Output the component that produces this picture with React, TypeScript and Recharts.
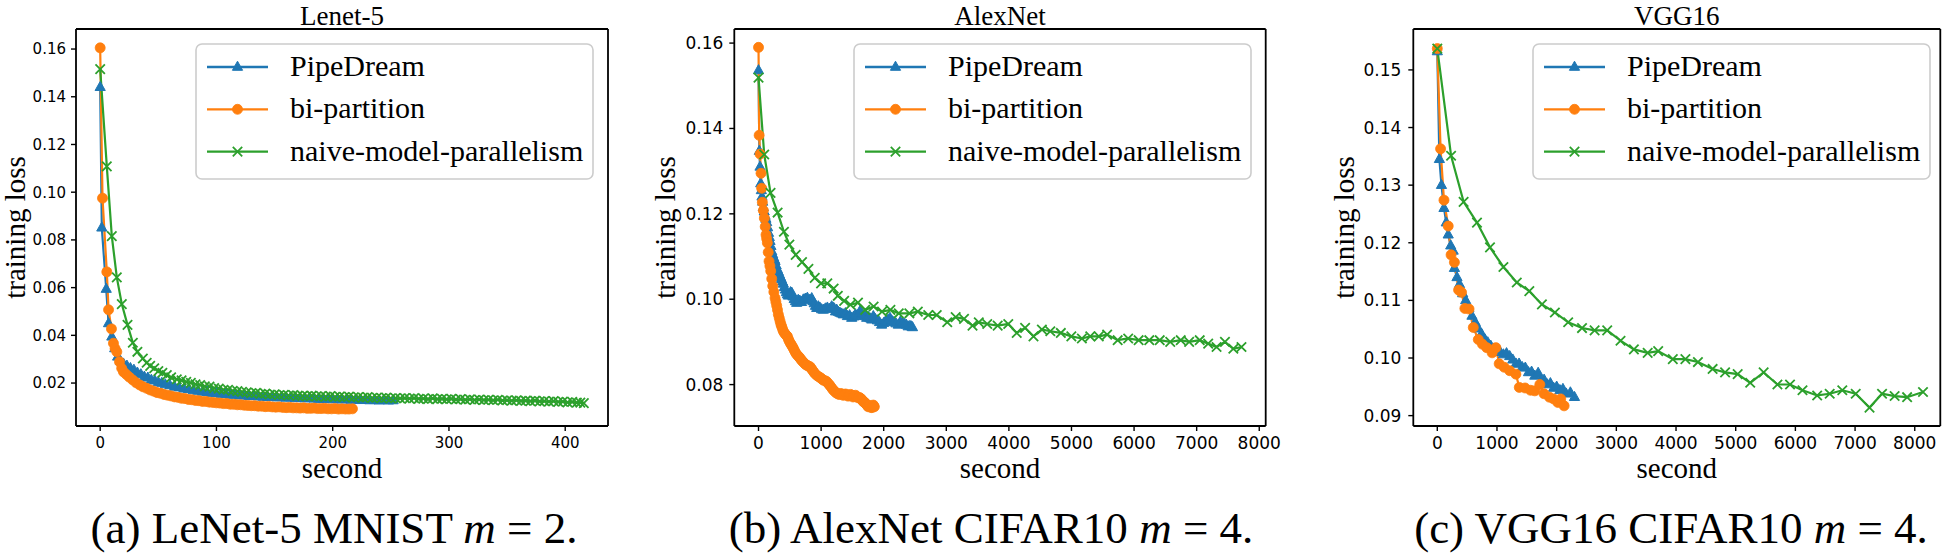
import React from 'react';
import { LineChart, Line, XAxis, YAxis, Legend, ReferenceLine } from 'recharts';

type Pt = [number, number];

const BLUE = '#1f77b4';
const ORANGE = '#ff7f0e';
const GREEN = '#2ca02c';
const SERIF = '"Liberation Serif", "Times New Roman", serif';
const SANS = '"DejaVu Sans", sans-serif';

const seriesNames = ['PipeDream', 'bi-partition', 'naive-model-parallelism'];
const titles = ['Lenet-5', 'AlexNet', 'VGG16'];
const captionHeads = ['(a) LeNet-5 MNIST ', '(b) AlexNet CIFAR10 ', '(c) VGG16 CIFAR10 '];
const captionM = ['2', '4', '4'];

// ---- (a) LeNet-5
const lenetPipe: Pt[] = [
  [0, 0.144], [1.4, 0.0851], [5.2, 0.0594], [7.2, 0.045], [10, 0.0394], [12.5, 0.0345], [15, 0.031],
  [17.5, 0.0292], [20, 0.0281], [23, 0.0272], [26, 0.0262], [29, 0.0255], [32, 0.0243], [35, 0.0236],
  [38, 0.0226], [41, 0.0222], [44, 0.0213], [47, 0.021], [50, 0.0203], [53, 0.02], [56, 0.0194],
  [60, 0.019], [64, 0.0184], [68, 0.0181], [72, 0.0176], [76, 0.0174], [80, 0.0169], [84, 0.0167],
  [88, 0.0163], [92, 0.0162], [96, 0.0158], [100, 0.0157], [104, 0.0154], [108, 0.0153], [112, 0.015],
  [116, 0.0151], [120, 0.0147], [124, 0.0148], [128, 0.0145], [132, 0.0146], [136, 0.0143], [140, 0.0142],
  [144, 0.0141], [148, 0.0143], [152, 0.0139], [156, 0.014], [160, 0.0138], [164, 0.0139], [168, 0.0136],
  [172, 0.0137], [176, 0.0135], [180, 0.0136], [184, 0.0134], [188, 0.0133], [192, 0.0132], [196, 0.0134],
  [200, 0.0131], [204, 0.0132], [208, 0.013], [212, 0.0132], [216, 0.0129], [220, 0.013], [224, 0.0128],
  [228, 0.013], [232, 0.0127], [236, 0.0128], [240, 0.0126], [244, 0.0129], [248, 0.0126], [252, 0.0127],
];
const lenetBi: Pt[] = [
  [0, 0.1605], [2, 0.0975], [5.7, 0.0666], [7.2, 0.0507], [9.7, 0.0427], [11.4, 0.0367], [12.8, 0.0345],
  [14.3, 0.0331], [16.6, 0.0289], [18.5, 0.0262], [20, 0.0247], [22.5, 0.0236], [25, 0.0225], [28, 0.0213],
  [31, 0.0201], [34, 0.0192], [37, 0.0184], [40, 0.0178], [43, 0.0171], [46, 0.0166], [49, 0.016],
  [52, 0.0157], [55, 0.0152], [58, 0.0149], [61, 0.0146], [64, 0.0142], [67, 0.014], [70, 0.0136],
  [73, 0.0135], [76, 0.0131], [79, 0.013], [82, 0.0127], [85, 0.0126], [88, 0.0123], [91, 0.0123],
  [94, 0.012], [97, 0.0119], [100, 0.0117], [103, 0.0116], [106, 0.0114], [109, 0.0114], [112, 0.0111],
  [115, 0.0111], [118, 0.0109], [121, 0.0109], [124, 0.0107], [127, 0.0106], [130, 0.0105], [133, 0.0105],
  [136, 0.0103], [139, 0.0103], [142, 0.0101], [145, 0.0102], [148, 0.01], [151, 0.0099], [154, 0.01],
  [157, 0.0098], [160, 0.0097], [163, 0.0098], [166, 0.0096], [169, 0.0096], [172, 0.0095], [175, 0.0096],
  [178, 0.0094], [181, 0.0094], [184, 0.0095], [187, 0.0093], [190, 0.0093], [193, 0.0094], [196, 0.0092],
  [199, 0.0092], [202, 0.0093], [205, 0.0091], [208, 0.0092], [211, 0.0091], [214, 0.0091], [217, 0.0092],
];
const lenetNaive: Pt[] = [
  [0, 0.1516], [5.7, 0.1108], [10, 0.0816], [14.3, 0.0643], [18.6, 0.0531], [23.5, 0.0444], [28.1, 0.0369],
  [32, 0.0331], [36.7, 0.0303], [40, 0.0285], [43, 0.0272], [46.5, 0.0262], [50, 0.025], [53.5, 0.0243],
  [57.3, 0.0233], [61, 0.0224], [65.9, 0.0216], [70, 0.0211], [74, 0.0205], [78, 0.0201], [82, 0.0195],
  [86, 0.0192], [90, 0.0186], [94, 0.0185], [98, 0.0179], [102, 0.0177], [106, 0.0172], [110, 0.0172],
  [114, 0.0167], [118, 0.0166], [122, 0.0163], [126, 0.0161], [130, 0.0158], [134, 0.0159], [138, 0.0155],
  [142, 0.0156], [146, 0.0152], [150, 0.0153], [154, 0.015], [158, 0.0151], [162, 0.0148], [166, 0.015],
  [170, 0.0147], [174, 0.0146], [178, 0.0145], [182, 0.0147], [186, 0.0144], [190, 0.0145], [194, 0.0143],
  [198, 0.0145], [202, 0.0142], [206, 0.0143], [210, 0.0141], [214, 0.0143], [218, 0.014], [222, 0.0141],
  [226, 0.0139], [230, 0.0141], [234, 0.0138], [238, 0.0139], [242, 0.0137], [246, 0.0139], [250, 0.0136],
  [254, 0.0137], [258, 0.0136], [262, 0.0137], [266, 0.0135], [270, 0.0137], [274, 0.0134], [278, 0.0135],
  [282, 0.0133], [286, 0.0136], [290, 0.0133], [294, 0.0134], [298, 0.0132], [302, 0.0134], [306, 0.0131],
  [310, 0.0133], [314, 0.013], [318, 0.0132], [322, 0.0129], [326, 0.0131], [330, 0.0129], [334, 0.013],
  [338, 0.0128], [342, 0.013], [346, 0.0127], [350, 0.0128], [354, 0.0126], [358, 0.0128], [362, 0.0125],
  [366, 0.0126], [370, 0.0124], [374, 0.0126], [378, 0.0123], [382, 0.0124], [386, 0.0122], [390, 0.0124],
  [394, 0.0121], [398, 0.0122], [402, 0.0119], [406, 0.0121], [410, 0.0118], [413, 0.0118], [416, 0.0116],
];

// ---- (b) AlexNet
const alexPipe: Pt[] = [
  [0, 0.1536], [13, 0.1347], [24, 0.131], [35, 0.1271], [45, 0.1255], [55, 0.124], [66, 0.1228], [77, 0.1215],
  [91, 0.1205], [105, 0.1195], [118, 0.1188], [131, 0.118], [145, 0.1168], [160, 0.1155], [172, 0.1145],
  [184, 0.1136], [198, 0.1124], [211, 0.1112], [225, 0.1105], [240, 0.1098], [252, 0.1093], [264, 0.1089],
  [282, 0.1079], [300, 0.107], [317, 0.1064], [333, 0.1058], [349, 0.1052], [365, 0.1047], [381, 0.1041],
  [397, 0.1036], [413, 0.1028], [430, 0.1022], [445, 0.1016], [461, 0.1011], [478, 0.1008], [495, 0.101],
  [512, 0.1016], [530, 0.1015], [550, 0.1006], [570, 0.1], [590, 0.0995], [610, 0.0991], [635, 0.0998],
  [660, 0.0996], [688, 0.0993], [716, 0.0999], [748, 0.1001], [780, 0.1003], [815, 0.0998], [850, 0.1002],
  [870, 0.0995], [890, 0.099], [910, 0.0984], [930, 0.0979], [955, 0.0983], [980, 0.098], [1008, 0.0976],
  [1036, 0.0975], [1068, 0.0978], [1100, 0.098], [1135, 0.0977], [1169, 0.0983], [1190, 0.098], [1210, 0.0978],
  [1230, 0.0971], [1249, 0.0975], [1275, 0.097], [1300, 0.0968], [1328, 0.0966], [1355, 0.0964], [1388, 0.0967],
  [1420, 0.096], [1455, 0.0962], [1489, 0.0956], [1520, 0.0959], [1550, 0.0964], [1586, 0.0962], [1622, 0.0972],
  [1650, 0.0965], [1680, 0.096], [1705, 0.0962], [1728, 0.0956], [1755, 0.0958], [1780, 0.0955], [1808, 0.0952],
  [1834, 0.096], [1867, 0.0953], [1900, 0.095], [1933, 0.0946], [1967, 0.094], [2000, 0.0944], [2030, 0.0948],
  [2065, 0.0951], [2100, 0.0956], [2130, 0.0949], [2160, 0.0946], [2195, 0.0943], [2233, 0.094], [2265, 0.0947],
  [2300, 0.0945], [2330, 0.0942], [2360, 0.094], [2390, 0.0936], [2419, 0.0937], [2440, 0.0936], [2460, 0.0934],
];
const alexBi: Pt[] = [
  [0, 0.159], [10, 0.1384], [25, 0.134], [40, 0.1295], [50, 0.126], [61, 0.1227], [77, 0.1208], [93, 0.119],
  [107, 0.117], [120, 0.1151], [130, 0.1142], [141, 0.1132], [155, 0.111], [168, 0.1089], [182, 0.1078],
  [195, 0.1066], [211, 0.1048], [227, 0.1031], [245, 0.1017], [264, 0.1003], [277, 0.0994], [290, 0.0985],
  [303, 0.0975], [317, 0.0964], [331, 0.0956], [345, 0.0948], [358, 0.0941], [370, 0.0936], [384, 0.093],
  [397, 0.0925], [413, 0.0921], [430, 0.0918], [446, 0.0915], [461, 0.0913], [476, 0.0907], [490, 0.0902],
  [508, 0.0897], [525, 0.0893], [541, 0.0889], [557, 0.0885], [573, 0.088], [590, 0.0875], [608, 0.0871],
  [627, 0.0868], [645, 0.0865], [663, 0.0862], [681, 0.0858], [700, 0.0855], [720, 0.0852], [740, 0.0849],
  [760, 0.0846], [780, 0.0845], [800, 0.0843], [823, 0.0842], [842, 0.0838], [860, 0.0834], [880, 0.083],
  [900, 0.0826], [928, 0.0822], [956, 0.0819], [978, 0.0817], [1000, 0.0815], [1020, 0.0812], [1040, 0.081],
  [1065, 0.0809], [1089, 0.0807], [1110, 0.0803], [1130, 0.08], [1150, 0.0796], [1170, 0.0792], [1190, 0.0788],
  [1210, 0.0785], [1230, 0.0782], [1249, 0.078], [1270, 0.0778], [1290, 0.0777], [1310, 0.0779], [1330, 0.0778],
  [1350, 0.0775], [1370, 0.0776], [1390, 0.0778], [1409, 0.0776], [1430, 0.0773], [1450, 0.0774], [1470, 0.0777],
  [1490, 0.0775], [1510, 0.0771], [1530, 0.0773], [1550, 0.0775], [1568, 0.0772], [1590, 0.0769], [1610, 0.077],
  [1628, 0.0768], [1645, 0.0766], [1660, 0.0763], [1674, 0.076], [1688, 0.0759], [1700, 0.0758], [1715, 0.0755],
  [1730, 0.0753], [1742, 0.075], [1754, 0.0748], [1767, 0.0751], [1780, 0.075], [1795, 0.0747], [1810, 0.0746],
  [1822, 0.0749], [1834, 0.0752], [1842, 0.0749], [1850, 0.0748],
];
const alexNaive: Pt[] = [
  [0, 0.1519], [91, 0.1339], [192, 0.1249], [305, 0.1203], [406, 0.1158], [493, 0.1128], [594, 0.1104],
  [695, 0.1087], [797, 0.1071], [898, 0.105], [999, 0.1037], [1099, 0.1037], [1200, 0.1025], [1267, 0.1008],
  [1368, 0.0996], [1468, 0.0987], [1589, 0.0992], [1704, 0.0975], [1839, 0.0983], [1973, 0.0971], [2107, 0.0975],
  [2241, 0.0967], [2410, 0.0967], [2545, 0.0971], [2712, 0.0963], [2847, 0.0963], [3015, 0.0946], [3150, 0.0958],
  [3283, 0.0954], [3419, 0.0938], [3519, 0.0946], [3654, 0.0942], [3821, 0.0938], [3990, 0.0942], [4125, 0.0921],
  [4259, 0.0933], [4393, 0.0913], [4527, 0.0929], [4662, 0.0925], [4830, 0.0921], [4998, 0.0913], [5166, 0.0908],
  [5300, 0.0913], [5436, 0.0913], [5570, 0.0917], [5738, 0.0904], [5906, 0.0908], [6073, 0.0904], [6243, 0.0904],
  [6410, 0.0904], [6578, 0.09], [6746, 0.0904], [6880, 0.09], [7049, 0.0904], [7184, 0.0896], [7318, 0.0888],
  [7452, 0.09], [7586, 0.0884], [7716, 0.0888],
];

// ---- (c) VGG16
const vggPipe: Pt[] = [
  [0, 0.1532], [35, 0.1345], [70, 0.13], [112, 0.126], [150, 0.1235], [183, 0.1214], [225, 0.1195],
  [266, 0.1186], [287, 0.1156], [330, 0.114], [372, 0.1128], [425, 0.1112], [476, 0.11], [530, 0.1086],
  [581, 0.1073], [635, 0.1062], [687, 0.1051], [740, 0.1042], [793, 0.1033], [845, 0.1027], [896, 0.1021],
  [950, 0.1016], [1002, 0.1012], [1055, 0.101], [1108, 0.1006], [1160, 0.1008], [1213, 0.1003], [1265, 0.0997],
  [1319, 0.099], [1370, 0.099], [1423, 0.0984], [1475, 0.0983], [1528, 0.0975], [1580, 0.0976], [1634, 0.0969],
  [1690, 0.0974], [1738, 0.096], [1790, 0.0962], [1843, 0.0954], [1895, 0.0956], [1949, 0.0948], [2000, 0.095],
  [2054, 0.0944], [2105, 0.0946], [2160, 0.0938], [2230, 0.094], [2299, 0.0932],
];
const vggBi: Pt[] = [
  [0, 0.1537], [55, 0.1363], [112, 0.1274], [183, 0.1229], [231, 0.1179], [287, 0.1166], [357, 0.1118],
  [406, 0.1114], [462, 0.1086], [532, 0.1085], [603, 0.1053], [687, 0.1032], [757, 0.1024], [828, 0.1018],
  [919, 0.1009], [982, 0.1018], [1037, 0.099], [1121, 0.0984], [1213, 0.0978], [1317, 0.0972], [1374, 0.0949],
  [1471, 0.0948], [1563, 0.0944], [1634, 0.0943], [1718, 0.0954], [1788, 0.0938], [1879, 0.0932], [1949, 0.0929],
  [2019, 0.0923], [2068, 0.0929], [2125, 0.0917],
];
const vggNaive: Pt[] = [
  [0, 0.1537], [231, 0.1351], [441, 0.1271], [665, 0.1235], [883, 0.1192], [1108, 0.1158], [1332, 0.1131],
  [1542, 0.1116], [1753, 0.1093], [1970, 0.1079], [2193, 0.1062], [2425, 0.1052], [2636, 0.1048], [2847, 0.1048],
  [3070, 0.103], [3294, 0.1015], [3525, 0.1009], [3701, 0.1012], [3946, 0.0998], [4157, 0.0998], [4367, 0.0993],
  [4613, 0.0981], [4822, 0.0975], [5033, 0.0972], [5243, 0.0957], [5468, 0.0975], [5699, 0.0954], [5910, 0.0954],
  [6119, 0.0944], [6365, 0.0935], [6575, 0.0938], [6786, 0.0944], [7011, 0.0938], [7242, 0.0914], [7452, 0.0938],
  [7663, 0.0934], [7872, 0.0932], [8138, 0.0941],
];

const lenetXTicks = [0, 100, 200, 300, 400];
const lenetYTicks = [0.02, 0.04, 0.06, 0.08, 0.1, 0.12, 0.14, 0.16];
const longXTicks = [0, 1000, 2000, 3000, 4000, 5000, 6000, 7000, 8000];
const alexYTicks = [0.08, 0.1, 0.12, 0.14, 0.16];
const vggYTicks = [0.09, 0.1, 0.11, 0.12, 0.13, 0.14, 0.15];

type Shape = 'tri' | 'circle' | 'cross';
const shapes: Shape[] = ['tri', 'circle', 'cross'];
const colors = [BLUE, ORANGE, GREEN];

function Marker({ cx, cy, shape, color }: { cx: number; cy: number; shape: Shape; color: string }) {
  if (shape === 'tri') {
    return (
      <polygon
        points={`${cx},${cy - 5.8} ${cx - 5.1},${cy + 3.3} ${cx + 5.1},${cy + 3.3}`}
        fill={color}
        stroke={color}
        strokeWidth={1}
      />
    );
  }
  if (shape === 'circle') return <circle cx={cx} cy={cy} r={5} fill={color} stroke={color} strokeWidth={0.8} />;
  return (
    <path
      d={`M${cx - 4.7},${cy - 4.7}L${cx + 4.7},${cy + 4.7}M${cx - 4.7},${cy + 4.7}L${cx + 4.7},${cy - 4.7}`}
      stroke={color}
      strokeWidth={1.8}
      fill="none"
    />
  );
}

const dotFor = (shape: Shape, color: string) => (p: any) => {
  const key = `d-${p.index}`;
  if (p.cx == null || p.cy == null) return <g key={key} />;
  return (
    <g key={key}>
      <Marker cx={p.cx} cy={p.cy} shape={shape} color={color} />
    </g>
  );
};

function LegendBox() {
  return (
    <svg width={400} height={138} style={{ display: 'block' }}>
      <rect x={1} y={1} width={397} height={135} rx={6} fill="rgba(255,255,255,0.8)" stroke="#cccccc" strokeWidth={1.6} />
      {seriesNames.map((name, i) => {
        const y = 24 + i * 42.3;
        return (
          <g key={name}>
            <line x1={12} x2={73} y1={y} y2={y} stroke={colors[i]} strokeWidth={2.3} />
            <Marker cx={42.5} cy={y} shape={shapes[i]} color={colors[i]} />
            <text x={95} y={y + 9} fontFamily={SERIF} fontSize={30} fill="#000">
              {name}
            </text>
          </g>
        );
      })}
    </svg>
  );
}

type PanelProps = {
  idx: number;
  left: number;
  width: number;
  frameLeft: number;
  frameRight: number;
  xDomain: [number, number];
  yDomain: [number, number];
  xTicks: number[];
  yTicks: number[];
  tickFont: number;
  tickGap: number;
  legendLeft: number;
  ylabelX: number;
  captionX: number;
  series: Pt[][];
};

const FRAME_TOP = 29;
const FRAME_BOTTOM = 426;
const H = 553;

function Panel(p: PanelProps) {
  const yAxisW = 60;
  const xAxisH = 30;
  const centerX = (p.frameLeft + p.frameRight) / 2;
  const midY = (FRAME_TOP + FRAME_BOTTOM) / 2;
  const tickStyle = { fill: '#000', fontSize: p.tickFont, fontFamily: SANS };
  const yFmt = (v: number) => v.toFixed(2);
  return (
    <div style={{ position: 'absolute', left: p.left, top: 0, width: p.width, height: H }}>
      <LineChart
        width={p.width}
        height={H}
        margin={{
          top: FRAME_TOP,
          right: p.width - p.frameRight,
          bottom: H - FRAME_BOTTOM - xAxisH,
          left: p.frameLeft - yAxisW,
        }}
      >
        <XAxis
          type="number"
          dataKey="x"
          domain={p.xDomain}
          allowDataOverflow
          ticks={p.xTicks}
          interval={0}
          height={xAxisH}
          stroke="#000"
          axisLine={{ stroke: '#000', strokeWidth: 1.8 }}
          tickLine={{ stroke: '#000', strokeWidth: 1.4 }}
          tickSize={5}
          tickMargin={6}
          tick={tickStyle}
        />
        <YAxis
          type="number"
          dataKey="y"
          domain={p.yDomain}
          allowDataOverflow
          ticks={p.yTicks}
          interval={0}
          width={yAxisW}
          stroke="#000"
          axisLine={{ stroke: '#000', strokeWidth: 1.8 }}
          tickLine={{ stroke: '#000', strokeWidth: 1.4 }}
          tickSize={5}
          tickMargin={p.tickGap}
          tick={tickStyle}
          tickFormatter={yFmt}
        />
        <ReferenceLine y={p.yDomain[1]} stroke="#000" strokeWidth={1.8} />
        <ReferenceLine x={p.xDomain[1]} stroke="#000" strokeWidth={1.8} />
        {p.series.map((pts, i) => (
          <Line
            key={seriesNames[i]}
            data={pts.map(([x, y]) => ({ x, y }))}
            dataKey="y"
            name={seriesNames[i]}
            type="linear"
            stroke={colors[i]}
            strokeWidth={2.2}
            dot={dotFor(shapes[i], colors[i])}
            activeDot={false}
            isAnimationActive={false}
          />
        ))}
        <Legend
          layout="horizontal"
          verticalAlign="middle"
          align="center"
          wrapperStyle={{ left: p.legendLeft, top: 43, width: 400, height: 138 }}
          content={() => <LegendBox />}
        />
      </LineChart>
      <svg
        width={p.width}
        height={H}
        style={{ position: 'absolute', left: 0, top: 0, pointerEvents: 'none', overflow: 'visible' }}
      >
        <text x={centerX} y={24.5} textAnchor="middle" fontFamily={SERIF} fontSize={27} fill="#000">
          {titles[p.idx]}
        </text>
        <text x={centerX} y={478} textAnchor="middle" fontFamily={SERIF} fontSize={29} fill="#000">
          second
        </text>
        <text
          x={p.ylabelX}
          y={midY}
          textAnchor="middle"
          transform={`rotate(-90 ${p.ylabelX} ${midY})`}
          fontFamily={SERIF}
          fontSize={29}
          fill="#000"
        >
          training loss
        </text>
        <text x={p.captionX} y={543} textAnchor="middle" fontFamily={SERIF} fontSize={45} fill="#000">
          {captionHeads[p.idx]}
          <tspan fontStyle="italic">m</tspan>
          {' = ' + captionM[p.idx] + '.'}
        </text>
      </svg>
    </div>
  );
}

export default function App() {
  return (
    <div style={{ position: 'absolute', left: 0, top: 0, width: 1946, height: H, background: '#fff', overflow: 'hidden' }}>
      <Panel
        idx={0}
        left={0}
        width={650}
        frameLeft={76}
        frameRight={608}
        xDomain={[-20.8, 436.8]}
        yDomain={[0.002, 0.1684]}
        xTicks={lenetXTicks}
        yTicks={lenetYTicks}
        tickFont={15}
        tickGap={5}
        legendLeft={195}
        ylabelX={25}
        captionX={334}
        series={[lenetPipe, lenetBi, lenetNaive]}
      />
      <Panel
        idx={1}
        left={650}
        width={650}
        frameLeft={84.3}
        frameRight={615.7}
        xDomain={[-387, 8103]}
        yDomain={[0.0703, 0.1633]}
        xTicks={longXTicks}
        yTicks={alexYTicks}
        tickFont={17}
        tickGap={6}
        legendLeft={202.5}
        ylabelX={25}
        captionX={341}
        series={[alexPipe, alexBi, alexNaive]}
      />
      <Panel
        idx={2}
        left={1300}
        width={646}
        frameLeft={113.3}
        frameRight={640.3}
        xDomain={[-402, 8428]}
        yDomain={[0.0882, 0.1571]}
        xTicks={longXTicks}
        yTicks={vggYTicks}
        tickFont={17}
        tickGap={7}
        legendLeft={232}
        ylabelX={54}
        captionX={371}
        series={[vggPipe, vggBi, vggNaive]}
      />
    </div>
  );
}
